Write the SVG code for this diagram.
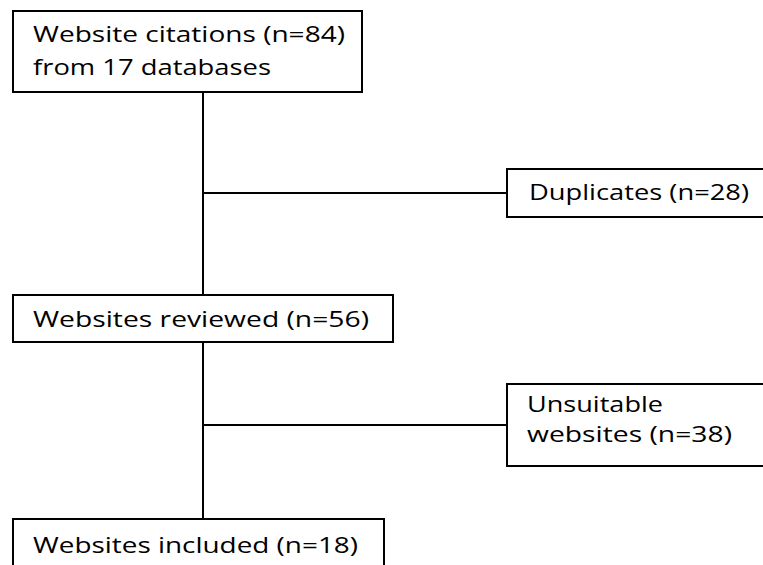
<svg xmlns="http://www.w3.org/2000/svg" width="763" height="565" viewBox="0 0 763 565">
  <style>
    .box { fill: #ffffff; stroke: #000000; stroke-width: 2; }
    .lbl { font-family: "Open Sans", "DejaVu Sans", sans-serif; font-size: 22px; fill: #000000; }
    .wire { fill: none; stroke: #000000; stroke-width: 2; }
  </style>
  <rect width="763" height="565" fill="#ffffff"/>
  <g id="connectors">
    <line class="wire" x1="203" y1="92" x2="203" y2="295"/>
    <line class="wire" x1="203" y1="342" x2="203" y2="519"/>
    <line class="wire" x1="203" y1="193" x2="507" y2="193"/>
    <line class="wire" x1="203" y1="425" x2="507" y2="425"/>
  </g>
  <g id="citations">
    <rect class="box" x="13" y="11" width="349" height="81"/>
    <text class="lbl" x="33" y="42" textLength="312" lengthAdjust="spacingAndGlyphs">Website citations (n=84)</text>
    <text class="lbl" x="33" y="75" textLength="238" lengthAdjust="spacingAndGlyphs">from 17 databases</text>
  </g>
  <g id="duplicates">
    <rect class="box" x="507" y="169" width="262" height="48"/>
    <text class="lbl" x="529" y="200" textLength="220" lengthAdjust="spacingAndGlyphs">Duplicates (n=28)</text>
  </g>
  <g id="reviewed">
    <rect class="box" x="13" y="295" width="380" height="47"/>
    <text class="lbl" x="33" y="327" textLength="336" lengthAdjust="spacingAndGlyphs">Websites reviewed (n=56)</text>
  </g>
  <g id="unsuitable">
    <rect class="box" x="507" y="384" width="262" height="82"/>
    <text class="lbl" x="527" y="412" textLength="136" lengthAdjust="spacingAndGlyphs">Unsuitable</text>
    <text class="lbl" x="527" y="442" textLength="205" lengthAdjust="spacingAndGlyphs">websites (n=38)</text>
  </g>
  <g id="included">
    <rect class="box" x="13" y="519" width="371" height="56"/>
    <text class="lbl" x="33" y="553" textLength="325" lengthAdjust="spacingAndGlyphs">Websites included (n=18)</text>
  </g>
</svg>
